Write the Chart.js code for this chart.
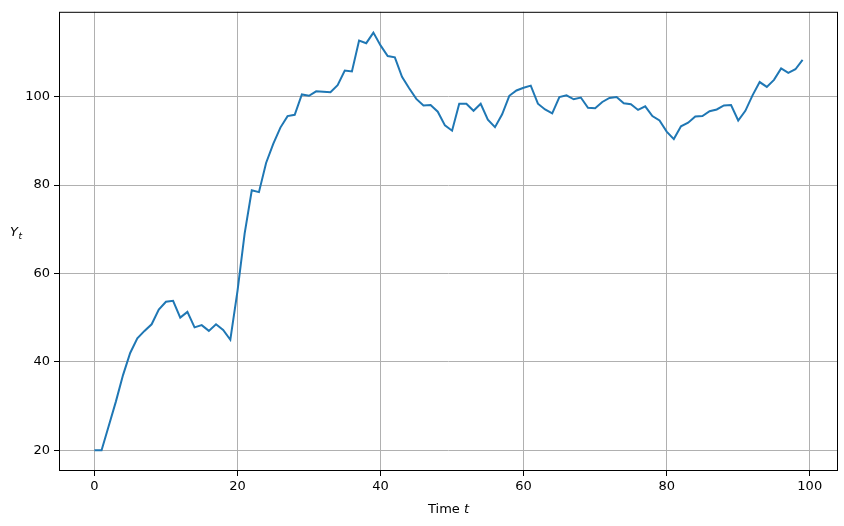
<!DOCTYPE html>
<html><head><meta charset="utf-8">
<script src="https://cdn.jsdelivr.net/npm/chart.js@4/dist/chart.umd.min.js"></script>
<style>body{margin:0;background:#fff}#wrap{width:844px;height:526px}</style>
</head><body><div id="wrap"><canvas id="myChart" width="844" height="526"></canvas></div>
<script>
const times = Array.from({length: 100}, (_, i) => i)
const values = [20,20,25.5,31,37,42,45.3,47,48.5,51.8,53.6,53.8,50,51.3,47.8,48.3,47,48.5,47.2,45,
	56,69,78.8,78.4,85,89.3,93,95.6,95.9,100.5,100.2,101.2,101.1,101,102.6,105.9,105.7,112.7,112.1,114.5,
	111.6,109.2,108.9,104.5,101.9,99.5,98,98.1,96.6,93.5,92.3,98.4,98.4,96.8,98.4,94.8,93.1,96,100.2,101.4,
	102,102.5,98.4,97.1,96.2,99.9,100.3,99.4,99.8,97.5,97.4,98.8,99.7,99.9,98.5,98.3,97,97.8,95.6,94.6,
	92.1,90.4,93.3,94.1,95.5,95.6,96.7,97.1,98,98.1,94.6,96.8,100.3,103.3,102.2,103.8,106.4,105.4,106.2,108.3]
const xTicks = [0, 20, 40, 60, 80, 100]
const yTicks = [20, 40, 60, 80, 100]

const font = "DejaVu Sans"
Chart.defaults.font.family = font
Chart.defaults.font.size = 13
Chart.defaults.color = '#000'

const labels = {
	id: 'labels',
	afterDraw(chart){
		const ctx = chart.ctx
		const a = chart.chartArea
		ctx.save()
		ctx.strokeStyle = '#000'
		ctx.lineWidth = 1
		ctx.strokeRect(a.left + 0.5, a.top + 0.5, a.right - a.left - 1, a.bottom - a.top - 1)
		ctx.fillStyle = '#000'
		ctx.textBaseline = 'alphabetic'
		// x title: Time t
		ctx.font = '13px ' + font
		const w1 = ctx.measureText('Time ').width
		ctx.font = 'italic 13px ' + font
		const w2 = ctx.measureText('t').width
		let x0 = (a.left + a.right) / 2 - (w1 + w2) / 2
		ctx.font = '13px ' + font
		ctx.fillText('Time ', x0, 513)
		ctx.font = 'italic 13px ' + font
		ctx.fillText('t', x0 + w1, 513)
		// y title: Y_t
		ctx.font = 'italic 13px ' + font
		ctx.fillText('Y', 10, 236)
		ctx.font = 'italic 9px ' + font
		ctx.fillText('t', 18.5, 239)
		ctx.restore()
	}
}

const ctx = document.getElementById('myChart').getContext('2d')
const myChart = new Chart(ctx, {
	type: 'line',
	data: {
		labels: times,
		datasets: [{
			data: values.map((v, i) => ({x: times[i], y: v})),
			borderColor: '#1f77b4',
			borderWidth: 2,
			pointRadius: 0,
			tension: 0,
			fill: false
		}]
	},
	options: {
		responsive: false,
		animation: false,
		layout: {padding: {top: 10, right: 6, left: 0, bottom: 0}},
		plugins: {legend: {display: false}, tooltip: {enabled: false}},
		scales: {
			x: {
				type: 'linear',
				min: -4.95, max: 103.95,
				afterBuildTicks: s => { s.ticks = xTicks.map(v => ({value: v})) },
				afterFit: s => { s.height = 55 },
				grid: {color: '#b0b0b0', lineWidth: 1, drawTicks: true, tickLength: 5, tickColor: '#000'},
				border: {display: false},
				ticks: {padding: 3, maxRotation: 0}
			},
			y: {
				min: 15.3, max: 119.2,
				afterBuildTicks: s => { s.ticks = yTicks.map(v => ({value: v})) },
				afterFit: s => { s.width = 59 },
				grid: {color: '#b0b0b0', lineWidth: 1, drawTicks: true, tickLength: 5, tickColor: '#000'},
				border: {display: false},
				ticks: {padding: 4}
			}
		}
	},
	plugins: [labels]
})
</script>
</body></html>
